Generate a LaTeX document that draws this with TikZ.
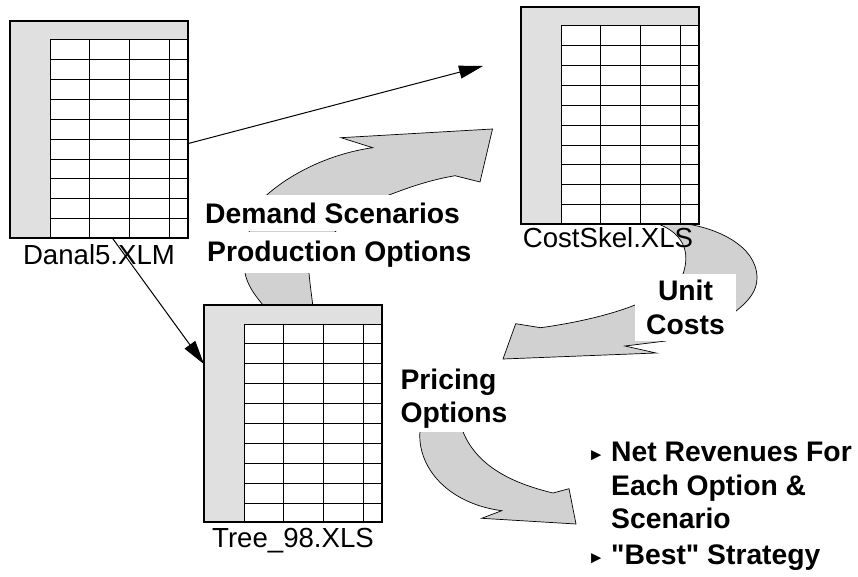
\documentclass[tikz,border=0pt]{standalone}
\usepackage{fontspec}
\setmainfont[Ligatures=TeXOff]{Liberation Sans}
\usetikzlibrary{positioning,arrows.meta}
\tikzset{
  sheet/.style={draw, line width=1.2pt, rectangle, minimum width=178pt, minimum height=217pt, inner sep=0pt, outer sep=0pt, anchor=north west},
  sheetline/.style={line width=1pt},
  bigarrow/.style={draw, line width=0.7pt, fill=arrowgray},
  label/.style={font=\fontsize{27.6}{30}\selectfont, inner sep=0pt},
  bold/.style={font=\fontsize{28.3}{33.5}\selectfont\bfseries, fill=white, inner sep=0pt, align=center},
  bullet/.style={font=\fontsize{17}{20}\selectfont, inner sep=0pt},
  link/.style={line width=1pt, -{Triangle[length=24pt,width=13pt]}}
}
\definecolor{arrowgray}{gray}{0.82}
\definecolor{sheetgray}{gray}{0.88}
\begin{document}
\begin{tikzpicture}[x=1pt,y=-1pt]
\useasboundingbox (0,0) rectangle (858,577);
% block arrows first, sheets go over them
\draw[bigarrow] (263,315) -- (263,305) .. controls (252,292) and (247,283) .. (245,273)
	.. controls (243,250) and (250,215) .. (266.7,195) .. controls (295,170) and (335,153) .. (372.7,147.7)
	-- (341,137.7) -- (492.5,129) -- (480,182) -- (455,175.7)
	.. controls (430,180) and (410,187) .. (389,195) .. controls (365,205) and (345,222) .. (336,231)
	.. controls (318,247) and (306,262) .. (309,273) .. controls (310,285) and (312,298) .. (312.7,305) -- (312.7,315) -- cycle;
\draw[bigarrow] (658,224) .. controls (675,230) and (693,245) .. (683,274) -- (635,305)
	.. controls (610,315) and (575,323) .. (540.7,327.7) -- (515.7,323.7) -- (503,359) -- (656,353) -- (625,346)
	-- (665.7,341) -- (736,311) .. controls (750,300) and (757,290) .. (757,278) .. controls (757,245) and (715,228) .. (686.7,224) -- cycle;
\draw[bigarrow] (425,410) -- (420,431) .. controls (417,465) and (445,503) .. (501.7,510.7) -- (481.7,518.3) -- (576,524)
	-- (569,488.7) -- (553,493) .. controls (520,485) and (478,470) .. (462.7,431) -- (455,410) -- cycle;
% the three spreadsheets
\foreach \name/\xa/\ya in {danal/10/21, costskel/521/7, tree/204/305}{
	\node[sheet, fill=sheetgray] (\name) at (\xa,\ya) {};
	\fill[white] (\xa+40,\ya+19) rectangle (\xa+178,\ya+217);
	\foreach \col in {40,79.5,119,159}
		\draw[sheetline] (\xa+\col,\ya+19) -- (\xa+\col,\ya+217);
	\foreach \row in {19,38.7,58.5,78.5,98.5,118.5,138.5,158,178,198}
		\draw[sheetline] (\xa+40,\ya+\row) -- (\xa+178,\ya+\row);
	\node[sheet] at (\xa,\ya) {};
}
\node[label, below=6pt of danal] (danallabel) {Danal5.XLM};
\node[label, below=3.5pt of costskel, xshift=-2pt] (costlabel) {CostSkel.XLS};
\node[label, below=6pt of tree] (treelabel) {Tree\_98.XLS};
% connectors
\coordinate (costend) at (483,66);
\draw[link] (danal.-9) -- (costend);
\draw[link] (danal.-83.5) -- (tree.151);
% white boxes lie across the block arrows
\node[bold, anchor=north west, minimum height=36pt, text height=27pt, text depth=6pt] (demand) at (205,195) {Demand Scenarios};
\node[bold, anchor=north west, minimum height=41pt, text height=24pt, text depth=6pt] (production) at (207,232) {Production Options};
\node[bold, minimum width=101pt, minimum height=67pt] (unit) at (685.5,307.5) {Unit\\Costs};
\node[bold, align=left, minimum width=112pt, minimum height=66pt] (pricing) at (454,398.5) {Pricing\\Options};
\node[bold, fill=none, align=left, anchor=north west] (revenue) at (611,442) {Net Revenues For\\Each Option \&\\Scenario};
\node[bold, fill=none, anchor=north west] (best) at (611,545) {"Best" Strategy};
\node[bullet, left=6pt of revenue.north west, yshift=-14pt] (bulleta) {►};
\node[bullet, left=6pt of best.west, yshift=-1pt] (bulletb) {►};
\end{tikzpicture}
\end{document}
